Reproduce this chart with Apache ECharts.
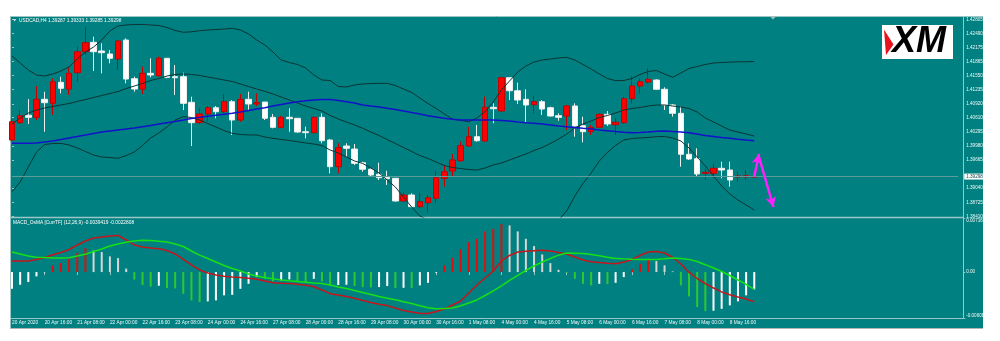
<!DOCTYPE html>
<html>
<head>
<meta charset="utf-8">
<script src="https://cdn.jsdelivr.net/npm/echarts@6.0.0/dist/echarts.min.js"></script>
<style>
html,body{margin:0;padding:0;background:#ffffff;}
#chart{width:1000px;height:341px;}
</style>
</head>
<body>
<div id="chart"></div>
<script>
// USDCAD H4: candles, Bollinger Bands (20,2), moving average, MACD/OsMA subwindow

const symbolName = 'USDCAD,H4';

// time-scale labels, one every 4 bars starting at the first bar
const timeLabels = ['20 Apr 2020','20 Apr 16:00','21 Apr 08:00','22 Apr 00:00','22 Apr 16:00','23 Apr 08:00',
  '24 Apr 00:00','24 Apr 16:00','27 Apr 08:00','28 Apr 00:00','28 Apr 16:00','29 Apr 08:00','30 Apr 00:00',
  '30 Apr 16:00','1 May 08:00','4 May 00:00','4 May 16:00','5 May 08:00','6 May 00:00','6 May 16:00',
  '7 May 08:00','8 May 00:00','8 May 16:00'];

// bar slots on the time scale (bars plus the empty chart shift on the right)
const slotCount = 117;

// [open, high, low, close]
const ohlc = [
  [1.40113,1.40581,1.40091,1.40521],[1.40499,1.40782,1.40470,1.40655],[1.40664,1.41027,1.40470,1.40619],
  [1.40619,1.41317,1.40559,1.41021],[1.41021,1.41190,1.40298,1.40945],[1.40931,1.41489,1.40671,1.41413],
  [1.41400,1.41525,1.41154,1.41266],[1.41250,1.41748,1.41117,1.41600],[1.41614,1.42194,1.41413,1.42082],
  [1.42082,1.42626,1.42009,1.42283],[1.42292,1.42417,1.41652,1.42082],[1.42098,1.42269,1.41600,1.42060],
  [1.42031,1.42120,1.41823,1.41935],[1.41919,1.42343,1.41674,1.42321],[1.42343,1.42381,1.41377,1.41473],
  [1.41480,1.41525,1.41190,1.41250],[1.41250,1.41748,1.41139,1.41600],[1.41600,1.41935,1.41511,1.41563],
  [1.41547,1.41971,1.41525,1.41935],[1.41935,1.41942,1.41489,1.41511],[1.41525,1.41786,1.41117,1.41502],
  [1.41525,1.41614,1.40782,1.40931],[1.40954,1.41079,1.39979,1.40499],[1.40499,1.40820,1.40470,1.40693],
  [1.40693,1.40871,1.40521,1.40833],[1.40833,1.40871,1.40597,1.40744],[1.40744,1.41139,1.40708,1.40967],
  [1.40967,1.41005,1.40225,1.40559],[1.40559,1.41139,1.40521,1.41021],[1.41021,1.41190,1.40782,1.40916],
  [1.40916,1.41154,1.40871,1.40945],[1.40960,1.40960,1.40559,1.40597],[1.40619,1.40693,1.40374,1.40396],
  [1.40396,1.40648,1.40374,1.40619],[1.40619,1.40820,1.40298,1.40588],[1.40597,1.40597,1.40276,1.40291],
  [1.40298,1.40410,1.40151,1.40276],[1.40276,1.40633,1.40262,1.40619],[1.40619,1.40708,1.40039,1.40097],
  [1.40113,1.40135,1.39370,1.39518],[1.39518,1.40039,1.39370,1.39941],[1.39979,1.40039,1.39741,1.39928],
  [1.39912,1.40024,1.39556,1.39593],[1.39607,1.39629,1.39406,1.39460],[1.39460,1.39482,1.39295,1.39333],
  [1.39348,1.39607,1.39221,1.39272],[1.39281,1.39428,1.39110,1.39250],[1.39259,1.39259,1.38737,1.38753],
  [1.38753,1.38960,1.38737,1.38887],[1.38887,1.38924,1.38612,1.38626],[1.38626,1.38924,1.38590,1.38737],
  [1.38715,1.38887,1.38492,1.38826],[1.38813,1.39428,1.38701,1.39272],[1.39259,1.39556,1.39072,1.39406],
  [1.39422,1.39801,1.39295,1.39667],[1.39651,1.40075,1.39629,1.39986],[1.39979,1.40410,1.39964,1.40187],
  [1.40187,1.40448,1.40075,1.40097],[1.40091,1.41079,1.40075,1.40842],[1.40842,1.40931,1.40485,1.40811],
  [1.40760,1.41502,1.40744,1.41502],[1.41502,1.41502,1.41005,1.41212],[1.41212,1.41391,1.40916,1.41005],
  [1.41021,1.41244,1.40508,1.40894],[1.40900,1.41101,1.40708,1.40967],[1.40967,1.41005,1.40671,1.40804],
  [1.40833,1.40856,1.40633,1.40648],[1.40655,1.40708,1.40543,1.40619],[1.40648,1.40894,1.40336,1.40871],
  [1.40871,1.40931,1.40187,1.40425],[1.40432,1.40633,1.40062,1.40298],[1.40298,1.40448,1.40225,1.40396],
  [1.40396,1.40708,1.40374,1.40686],[1.40686,1.40760,1.40425,1.40470],[1.40454,1.40597,1.40225,1.40508],
  [1.40499,1.41079,1.40470,1.41034],[1.41034,1.41540,1.40931,1.41317],[1.41317,1.41489,1.41154,1.41413],
  [1.41406,1.41712,1.41377,1.41467],[1.41451,1.41467,1.41228,1.41244],[1.41244,1.41288,1.40782,1.40894],
  [1.40894,1.40916,1.40633,1.40708],[1.40708,1.40856,1.39518,1.39794],[1.39794,1.40039,1.39667,1.39689],
  [1.39696,1.39928,1.39310,1.39355],[1.39370,1.39482,1.39221,1.39393],[1.39370,1.39593,1.39259,1.39482],
  [1.39482,1.39629,1.39259,1.39444],[1.39444,1.39629,1.39072,1.39221],[1.39288,1.39406,1.39183,1.39310],
  [1.39288,1.39444,1.39221,1.39317],[1.39287,1.39333,1.39285,1.39298]
];

const bbUpper = [
  1.41986,1.41830,1.41674,1.41563,1.41540,1.41585,1.41652,1.41741,1.41919,1.42075,
  1.42187,1.42343,1.42544,1.42655,1.42678,1.42689,1.42689,1.42678,1.42667,1.42622,
  1.42555,1.42515,1.42526,1.42550,1.42566,1.42577,1.42588,1.42604,1.42566,1.42477,
  1.42343,1.42232,1.42075,1.41897,1.41841,1.41797,1.41719,1.41563,1.41451,1.41440,
  1.41306,1.41295,1.41340,1.41362,1.41373,1.41377,1.41377,1.41328,1.41250,1.41172,
  1.41050,1.40927,1.40816,1.40693,1.40581,1.40548,1.40521,1.40604,1.40749,1.40960,
  1.41228,1.41429,1.41629,1.41763,1.41852,1.41897,1.41919,1.41942,1.41957,1.41897,
  1.41797,1.41696,1.41585,1.41485,1.41436,1.41440,1.41485,1.41574,1.41641,1.41663,
  1.41585,1.41511,1.41607,1.41708,1.41752,1.41797,1.41830,1.41841,1.41852,1.41857,
  1.41859,1.41864
];

const bbMiddle = [
  1.40470,1.40604,1.40715,1.40782,1.40827,1.40860,1.40894,1.40927,1.40972,1.41016,
  1.41061,1.41105,1.41150,1.41194,1.41261,1.41317,1.41373,1.41440,1.41485,1.41540,
  1.41574,1.41585,1.41574,1.41552,1.41518,1.41485,1.41451,1.41418,1.41362,1.41306,
  1.41250,1.41199,1.41139,1.41072,1.41005,1.40938,1.40871,1.40816,1.40760,1.40660,
  1.40581,1.40514,1.40448,1.40374,1.40291,1.40213,1.40124,1.40035,1.39946,1.39857,
  1.39767,1.39701,1.39622,1.39544,1.39500,1.39477,1.39455,1.39444,1.39489,1.39556,
  1.39600,1.39667,1.39734,1.39801,1.39879,1.39946,1.40035,1.40135,1.40247,1.40381,
  1.40470,1.40537,1.40615,1.40660,1.40715,1.40782,1.40816,1.40838,1.40871,1.40894,
  1.40894,1.40871,1.40849,1.40816,1.40737,1.40604,1.40514,1.40425,1.40336,1.40291,
  1.40247,1.40202
];

const bbLower = [
  1.38960,1.39176,1.39511,1.39845,1.40013,1.40035,1.40039,1.40002,1.39935,1.39857,
  1.39779,1.39734,1.39723,1.39705,1.39767,1.39845,1.39990,1.40158,1.40269,1.40403,
  1.40559,1.40633,1.40615,1.40559,1.40481,1.40403,1.40325,1.40262,1.40236,1.40225,
  1.40225,1.40180,1.40151,1.40124,1.40102,1.40075,1.40046,1.40024,1.39990,1.39890,
  1.39823,1.39734,1.39645,1.39589,1.39489,1.39377,1.39221,1.39065,1.38842,1.38619,
  1.38418,1.38329,1.38284,1.38240,1.38218,1.38195,1.38173,1.38151,1.38106,1.38040,
  1.37973,1.37906,1.37839,1.37839,1.37906,1.37995,1.38151,1.38329,1.38530,1.38864,
  1.39143,1.39377,1.39645,1.39834,1.39995,1.40113,1.40147,1.40158,1.40169,1.40187,
  1.40191,1.40158,1.40091,1.39935,1.39734,1.39533,1.39310,1.39087,1.38909,1.38775,
  1.38664,1.38552
];

const maBlue = [
  1.40039,1.40039,1.40039,1.40046,1.40068,1.40091,1.40124,1.40158,1.40191,1.40225,
  1.40258,1.40291,1.40314,1.40336,1.40358,1.40381,1.40410,1.40436,1.40470,1.40499,
  1.40526,1.40559,1.40593,1.40619,1.40642,1.40664,1.40686,1.40708,1.40737,1.40771,
  1.40804,1.40833,1.40871,1.40905,1.40938,1.40967,1.40989,1.41005,1.41016,1.41016,
  1.40994,1.40967,1.40938,1.40894,1.40871,1.40849,1.40820,1.40793,1.40760,1.40726,
  1.40693,1.40655,1.40626,1.40597,1.40575,1.40559,1.40559,1.40559,1.40559,1.40559,
  1.40548,1.40537,1.40514,1.40499,1.40485,1.40470,1.40448,1.40425,1.40410,1.40392,
  1.40374,1.40358,1.40336,1.40321,1.40302,1.40285,1.40276,1.40280,1.40291,1.40307,
  1.40314,1.40302,1.40291,1.40276,1.40247,1.40213,1.40191,1.40169,1.40151,1.40131,
  1.40113,1.40097
];

// OsMA histogram
const osma = [
  -0.00221,-0.00168,-0.00132,-0.00057,-0.00004,0.00089,0.00119,0.00176,0.00256,0.00318,
  0.00285,0.00265,0.00208,0.00185,0.00046,-0.00099,-0.00172,-0.00192,-0.00181,-0.00212,
  -0.00216,-0.00287,-0.00375,-0.00397,-0.00388,-0.00375,-0.00308,-0.00301,-0.00221,-0.00155,
  -0.00066,-0.00089,-0.00123,-0.00110,-0.00097,-0.00123,-0.00142,-0.00089,-0.00123,-0.00176,
  -0.00172,-0.00168,-0.00185,-0.00199,-0.00203,-0.00199,-0.00185,-0.00212,-0.00208,-0.00212,
  -0.00176,-0.00142,-0.00009,0.00089,0.00189,0.00301,0.00397,0.00441,0.00539,0.00573,
  0.00639,0.00618,0.00539,0.00441,0.00344,0.00234,0.00119,0.00030,-0.00009,-0.00089,
  -0.00155,-0.00176,-0.00155,-0.00159,-0.00142,-0.00066,0.00036,0.00110,0.00163,0.00146,
  0.00089,0.00009,-0.00176,-0.00322,-0.00463,-0.00516,-0.00512,-0.00486,-0.00441,-0.00388,
  -0.00308,-0.00229
];

// MACD main line (red)
const macdMain = [
  0.00147,0.00147,0.00147,0.00167,0.00193,0.00230,0.00260,0.00299,0.00359,0.00412,
  0.00451,0.00465,0.00478,0.00485,0.00425,0.00359,0.00332,0.00319,0.00310,0.00286,
  0.00240,0.00167,0.00094,0.00028,-0.00012,-0.00038,-0.00054,-0.00065,-0.00071,-0.00081,
  -0.00094,-0.00118,-0.00140,-0.00147,-0.00152,-0.00160,-0.00173,-0.00191,-0.00237,-0.00286,
  -0.00303,-0.00323,-0.00346,-0.00376,-0.00402,-0.00425,-0.00444,-0.00475,-0.00508,-0.00528,
  -0.00545,-0.00548,-0.00522,-0.00489,-0.00436,-0.00383,-0.00277,-0.00171,-0.00078,0.00015,
  0.00147,0.00220,0.00266,0.00277,0.00283,0.00289,0.00279,0.00260,0.00240,0.00200,
  0.00160,0.00136,0.00127,0.00118,0.00111,0.00134,0.00164,0.00220,0.00266,0.00273,
  0.00253,0.00193,0.00107,-0.00005,-0.00085,-0.00154,-0.00211,-0.00263,-0.00301,-0.00330,
  -0.00356,-0.0039419
];

// MACD signal line (green)
const macdSignal = [
  0.00266,0.00240,0.00213,0.00197,0.00192,0.00187,0.00187,0.00189,0.00213,0.00236,
  0.00273,0.00306,0.00346,0.00372,0.00396,0.00412,0.00421,0.00418,0.00409,0.00399,
  0.00372,0.00339,0.00279,0.00224,0.00180,0.00134,0.00087,0.00048,0.00015,-0.00025,
  -0.00052,-0.00071,-0.00089,-0.00105,-0.00115,-0.00124,-0.00134,-0.00144,-0.00152,-0.00171,
  -0.00197,-0.00217,-0.00244,-0.00270,-0.00297,-0.00324,-0.00347,-0.00367,-0.00392,-0.00417,
  -0.00446,-0.00473,-0.00486,-0.00483,-0.00475,-0.00446,-0.00409,-0.00369,-0.00310,-0.00250,
  -0.00184,-0.00111,-0.00045,0.00021,0.00081,0.00134,0.00180,0.00224,0.00253,0.00250,
  0.00245,0.00233,0.00216,0.00197,0.00181,0.00175,0.00171,0.00168,0.00166,0.00167,
  0.00176,0.00187,0.00180,0.00168,0.00140,0.00098,0.00054,0.00008,-0.00045,-0.00105,
  -0.00164,-0.0022808
];

const priceTicks = [1.42805,1.42490,1.42175,1.41865,1.41550,1.41235,1.40920,1.40610,
  1.40295,1.39980,1.39665,1.39040,1.38725,1.38410];
const macdTicks = [0.00716, 0, -0.00608];

// projected move drawn from the last bar: [barIndex, price] start/end pairs
const forecastArrows = [
  [[91, 1.39298], [91.58, 1.39801]],
  [[91.58, 1.39734], [93.35, 1.38619]]
];

// ---- styling ----
const TEAL = '#008080';
const FRAME = '#9cc6c6';
const LABEL = '#f2f8f8';
const FONT = '"Liberation Sans", Arial, sans-serif';

const categories = Array.from({length: slotCount}, (_, i) => String(i));
const last = ohlc[ohlc.length - 1];
const lastClose = last[3];

function histColor(i) {
  const v = osma[i];
  const p = i > 0 ? osma[i - 1] : v;
  if (v >= 0) return v > p ? '#dc1010' : '#d6d6d6';
  return v < p ? '#2ec82e' : '#ffffff';
}

// subwindow scale: max label sits under the top edge, min label above the bottom edge
function macdLabel(v) {
  if (v === 0) return '0.00';
  return (v > 0 ? '{hi|' : '{lo|') + v.toFixed(5) + '}';
}

const chart = echarts.init(document.getElementById('chart'), null, {renderer: 'canvas'});

const option = {
  animation: false,
  backgroundColor: '#ffffff',
  textStyle: {fontFamily: FONT},
  grid: [
    {left: 12, top: 17, width: 946.2, height: 200, containLabel: false, outerBoundsMode: 'none'},
    {left: 12, top: 218, width: 946.2, height: 100, containLabel: false, outerBoundsMode: 'none'}
  ],
  xAxis: [
    {type: 'category', gridIndex: 0, data: categories, boundaryGap: false,
      axisLine: {show: false}, axisTick: {show: false}, axisLabel: {show: false}, splitLine: {show: false}},
    {type: 'category', gridIndex: 1, data: categories, boundaryGap: false,
      axisLine: {show: false},
      axisTick: {show: true, interval: (i) => i % 4 === 0 && i / 4 < timeLabels.length, length: 3,
        lineStyle: {color: FRAME, width: 1}},
      axisLabel: {show: true, interval: (i) => i % 4 === 0 && i / 4 < timeLabels.length,
        formatter: (v, i) => timeLabels[i / 4] || '', align: 'left', margin: 2,
        color: LABEL, fontSize: 4.8, fontFamily: FONT, hideOverlap: false},
      splitLine: {show: false}},
    {type: 'value', gridIndex: 0, min: 0, max: slotCount - 1, show: false}
  ],
  yAxis: [
    {type: 'value', gridIndex: 0, position: 'right', offset: 5, min: 1.38396, max: 1.42856,
      splitLine: {show: false}, axisLine: {show: false},
      axisTick: {show: true, customValues: priceTicks, length: 2, lineStyle: {color: FRAME}},
      axisLabel: {show: true, customValues: priceTicks, formatter: (v) => v.toFixed(5),
        color: LABEL, fontSize: 4.6, fontFamily: FONT, margin: 3, hideOverlap: false}},
    {type: 'value', gridIndex: 1, position: 'right', offset: 5, min: -0.00608, max: 0.00716,
      splitLine: {show: false}, axisLine: {show: false},
      axisTick: {show: true, customValues: macdTicks, length: 2, lineStyle: {color: FRAME}},
      axisLabel: {show: true, customValues: macdTicks, formatter: macdLabel,
        color: LABEL, fontSize: 4.6, fontFamily: FONT, margin: 3, hideOverlap: false,
        rich: {
          hi: {padding: [6, 0, 0, 0], color: LABEL, fontSize: 4.6, fontFamily: FONT},
          lo: {padding: [0, 0, 4, 0], color: LABEL, fontSize: 4.6, fontFamily: FONT}
        }}}
  ],
  series: [
    {
      name: 'price', type: 'candlestick', xAxisIndex: 0, yAxisIndex: 0,
      data: ohlc.map(r => [r[0], r[3], r[2], r[1]]),
      barWidth: 6,
      itemStyle: {color: '#ff0000', color0: '#ffffff', borderColor: '#c40000', borderColor0: '#eeeeee', borderWidth: 1},
      z: 3
    },
    {name: 'BB upper', type: 'line', xAxisIndex: 0, yAxisIndex: 0, data: bbUpper, showSymbol: false, symbol: 'none',
      lineStyle: {color: '#0c3434', width: 1}, z: 4, silent: true},
    {name: 'BB middle', type: 'line', xAxisIndex: 0, yAxisIndex: 0, data: bbMiddle, showSymbol: false, symbol: 'none',
      lineStyle: {color: '#0c3434', width: 1}, z: 4, silent: true},
    {name: 'BB lower', type: 'line', xAxisIndex: 0, yAxisIndex: 0, data: bbLower, showSymbol: false, symbol: 'none',
      lineStyle: {color: '#0c3434', width: 1}, z: 4, silent: true},
    {name: 'MA', type: 'line', xAxisIndex: 0, yAxisIndex: 0, data: maBlue, showSymbol: false, symbol: 'none',
      lineStyle: {color: '#1212c8', width: 1.5}, z: 4, silent: true,
      // current bid line with its price tag on the scale
      markLine: {
        silent: true, symbol: ['none', 'none'], precision: 6,
        lineStyle: {color: '#5f9c9c', width: 1, type: 'solid'},
        label: {show: true, position: 'end', distance: 6, formatter: () => lastClose.toFixed(5),
          backgroundColor: '#ffffff', color: '#0b4545', fontSize: 4.6, fontFamily: FONT, padding: [1, 2, 0, 2]},
        data: [{yAxis: lastClose}]
      }},
    {
      name: 'forecast', type: 'line', xAxisIndex: 2, yAxisIndex: 0,
      data: forecastArrows.flat(), showSymbol: false, symbol: 'none',
      lineStyle: {width: 0, opacity: 0}, silent: true, z: 6,
      markLine: {
        silent: true, symbol: ['none', 'arrow'], symbolSize: [8, 10], precision: 6,
        lineStyle: {color: '#ff1fff', width: 2.5, type: 'solid'},
        label: {show: false},
        data: forecastArrows.map(s => [{coord: s[0]}, {coord: s[1]}])
      }
    },
    {name: 'OsMA', type: 'bar', xAxisIndex: 1, yAxisIndex: 1, data: osma, barWidth: 2,
      itemStyle: {color: (p) => histColor(p.dataIndex)}, silent: true, z: 3},
    {name: 'MACD', type: 'line', xAxisIndex: 1, yAxisIndex: 1, data: macdMain, showSymbol: false, symbol: 'none',
      lineStyle: {color: '#c4161c', width: 1.5}, z: 4, silent: true},
    {name: 'Signal', type: 'line', xAxisIndex: 1, yAxisIndex: 1, data: macdSignal, showSymbol: false, symbol: 'none',
      lineStyle: {color: '#16e016', width: 1.5}, z: 4, silent: true}
  ],
  graphic: [
    // terminal window background and frame
    {type: 'rect', z: -10, silent: true, shape: {x: 10, y: 16, width: 973, height: 312}, style: {fill: TEAL}},
    {type: 'line', z: 1, silent: true, shape: {x1: 10, y1: 16.5, x2: 983, y2: 16.5}, style: {stroke: FRAME, lineWidth: 1}},
    {type: 'line', z: 1, silent: true, shape: {x1: 10.5, y1: 16, x2: 10.5, y2: 328}, style: {stroke: FRAME, lineWidth: 1}},
    {type: 'line', z: 1, silent: true, shape: {x1: 10, y1: 217.5, x2: 963, y2: 217.5}, style: {stroke: FRAME, lineWidth: 1.6}},
    {type: 'line', z: 1, silent: true, shape: {x1: 10, y1: 318.5, x2: 963, y2: 318.5}, style: {stroke: FRAME, lineWidth: 1}},
    {type: 'line', z: 1, silent: true, shape: {x1: 963.5, y1: 16, x2: 963.5, y2: 318.5}, style: {stroke: FRAME, lineWidth: 1}},
    {type: 'line', z: 1, silent: true, shape: {x1: 10, y1: 328.5, x2: 983, y2: 328.5}, style: {stroke: '#b4b4b4', lineWidth: 1}},
    // chart shift marker
    {type: 'polygon', z: 1, silent: true, shape: {points: [[770, 16.5], [776, 16.5], [773, 19.5]]}, style: {fill: '#a9bcbc'}},
    // window captions
    {type: 'polygon', z: 10, silent: true, shape: {points: [[13.2, 19.2], [16.2, 19.2], [14.7, 21.3]]}, style: {fill: '#ffffff'}},
    {type: 'text', z: 10, silent: true, style: {
      x: 19, y: 20.4, text: symbolName + ' ' + [last[0], last[1], last[2], last[3]].map(v => v.toFixed(5)).join(' '),
      fill: '#ffffff', font: '4.8px ' + FONT, textAlign: 'left', textVerticalAlign: 'middle'}},
    {type: 'text', z: 10, silent: true, style: {
      x: 13, y: 222.4,
      text: 'MACD_OsMA [CurrTF] (12,26,9) ' + macdMain[macdMain.length - 1].toFixed(7) + ' ' + macdSignal[macdSignal.length - 1].toFixed(7),
      fill: '#ffffff', font: '4.8px ' + FONT, textAlign: 'left', textVerticalAlign: 'middle'}},
    // broker logo
    {type: 'rect', z: 10, silent: true, shape: {x: 882, y: 25, width: 71, height: 34}, style: {fill: '#ffffff'}},
    {type: 'polygon', z: 11, silent: true, shape: {points: [[884, 29.5], [893.5, 44.5], [886, 55]]}, style: {fill: '#e8141c'}},
    {type: 'text', z: 11, silent: true, style: {
      x: 892, y: 42.5, text: 'XM', fill: '#000000', font: 'italic 900 36px ' + FONT,
      textAlign: 'left', textVerticalAlign: 'middle'}}
  ]
};

chart.setOption(option);
</script>
</body>
</html>
